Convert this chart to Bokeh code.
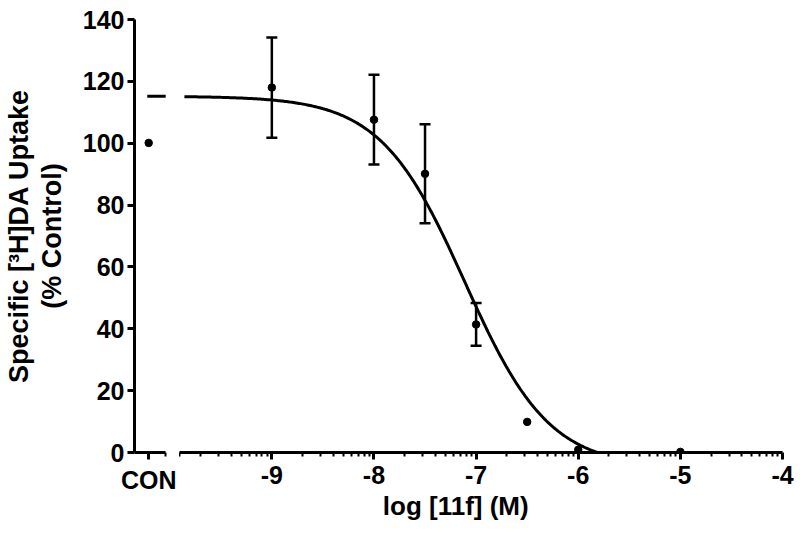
import math
from bokeh.plotting import figure
from bokeh.models import Range1d, FixedTicker, ColumnDataSource, Whisker, TeeHead
from bokeh.layouts import row
from bokeh.embed import file_html
from bokeh.resources import INLINE

# ---------------- data ----------------
con_label = "CON"
con_value = 100.1
log_conc = [-9.0, -8.0, -7.5, -7.0, -6.5, -6.0, -5.0]
uptake = [118.0, 107.6, 90.1, 41.4, 9.9, 0.9, 0.2]
sem = [16.2, 14.5, 16.0, 6.9, 0.0, 0.0, 0.0]
y_ticks = [0, 20, 40, 60, 80, 100, 120, 140]
x_ticks = [-9, -8, -7, -6, -5, -4]
x_tick_labels = ["-9", "-8", "-7", "-6", "-5", "-4"]
# fitted sigmoidal dose-response parameters
fit_top = 115.2
fit_bottom = -5.0
fit_logic50 = -7.11
fit_hill = 1.05

x_title = "log [11f] (M)"
y_title = "Specific [\u00b3H]DA Uptake\n(% Control)"

FONT = "Liberation Sans"
TICK_PX = "25px"
YTITLE_PX = "27px"
XTITLE_PX = "26px"

# ---------------- layout constants ----------------
H = 529
TOP = 19
BOTTOM = 77
RIGHT_START = -9.904
RIGHT_END = -4.0
# the x title is centred under the whole broken axis (left of the right panel's centre)
TITLE_SHIFT = "\u00a0" * 7


def style_axis(ax):
    ax.axis_line_width = 3
    ax.axis_line_color = "black"
    ax.major_tick_line_width = 3
    ax.major_tick_line_color = "black"
    ax.minor_tick_line_width = 2
    ax.minor_tick_line_color = "black"
    ax.major_tick_in = 0
    ax.major_tick_out = 7
    ax.minor_tick_in = 0
    ax.minor_tick_out = 4
    ax.major_label_text_font = FONT
    ax.major_label_text_font_style = "bold"
    ax.major_label_text_font_size = TICK_PX
    ax.major_label_text_color = "black"
    ax.axis_label_text_font = FONT
    ax.axis_label_text_font_style = "bold"
    ax.axis_label_text_font_size = YTITLE_PX
    ax.axis_label_text_color = "black"


yr = Range1d(0, 140)

# ---------------- left panel: control ----------------
left = figure(width=179, height=H, x_range=Range1d(0, 3.172), y_range=yr,
              output_backend="svg", toolbar_location=None,
              min_border=0, min_border_left=133, min_border_right=0,
              min_border_top=TOP, min_border_bottom=BOTTOM,
              outline_line_color=None)
left.grid.visible = False
left.xaxis.ticker = FixedTicker(ticks=[1], minor_ticks=[2.16])
left.xaxis.major_label_overrides = {1: con_label}
left.xaxis.bounds = (0, 2.16)
left.yaxis.ticker = FixedTicker(ticks=y_ticks, minor_ticks=[])
left.yaxis.axis_label = y_title
left.yaxis.axis_label_standoff = 13
left.yaxis.axis_label_text_line_height = 1.1
left.yaxis.major_label_standoff = 3
left.xaxis.major_label_standoff = 6
style_axis(left.xaxis)
style_axis(left.yaxis)

left.scatter([1], [con_value], size=7.5, color="black")
left.line([0.9, 2.2], [fit_top, fit_top], line_width=3, line_color="black")

# ---------------- right panel: concentrations ----------------
right = figure(width=620, height=H, x_range=Range1d(RIGHT_START, RIGHT_END), y_range=yr,
               output_backend="svg", toolbar_location=None, y_axis_location=None,
               min_border=0, min_border_left=0, min_border_right=17,
               min_border_top=TOP, min_border_bottom=BOTTOM,
               outline_line_color=None)
right.grid.visible = False

minor = [RIGHT_START]
for d in range(-10, -4):
    for k in range(2, 10):
        v = d + math.log10(k)
        if RIGHT_START < v < RIGHT_END:
            minor.append(v)
right.xaxis.ticker = FixedTicker(ticks=x_ticks, minor_ticks=minor)
right.xaxis.major_label_overrides = dict(zip(x_ticks, x_tick_labels))
right.xaxis.major_label_standoff = 6
style_axis(right.xaxis)
right.xaxis.axis_label = x_title + TITLE_SHIFT
right.xaxis.axis_label_text_font_size = XTITLE_PX
right.xaxis.axis_label_standoff = 4

# fitted curve, drawn from the plateau to where it meets zero
x_zero = fit_logic50 + math.log10((fit_top - fit_bottom) / (0 - fit_bottom) - 1) / fit_hill
x_start = -9.856
n = 300
cx = [x_start + (x_zero - x_start) * i / (n - 1) for i in range(n)]
cy = [max(0.0, fit_bottom + (fit_top - fit_bottom) / (1 + 10 ** ((x - fit_logic50) * fit_hill))) for x in cx]
right.line(cx, cy, line_width=3, line_color="black")

# error bars
ex = [x for x, s in zip(log_conc, sem) if s > 0]
lo = [y - s for y, s in zip(uptake, sem) if s > 0]
hi = [y + s for y, s in zip(uptake, sem) if s > 0]
src = ColumnDataSource(dict(x=ex, lower=lo, upper=hi))
right.add_layout(Whisker(base="x", lower="lower", upper="upper", source=src,
                         line_width=2.5, line_color="black",
                         upper_head=TeeHead(size=11, line_width=2.5, line_color="black"),
                         lower_head=TeeHead(size=11, line_width=2.5, line_color="black")))
right.scatter(log_conc, uptake, size=7.5, color="black")

layout = row(left, right)
open("out.html", "w").write(file_html(layout, INLINE))
